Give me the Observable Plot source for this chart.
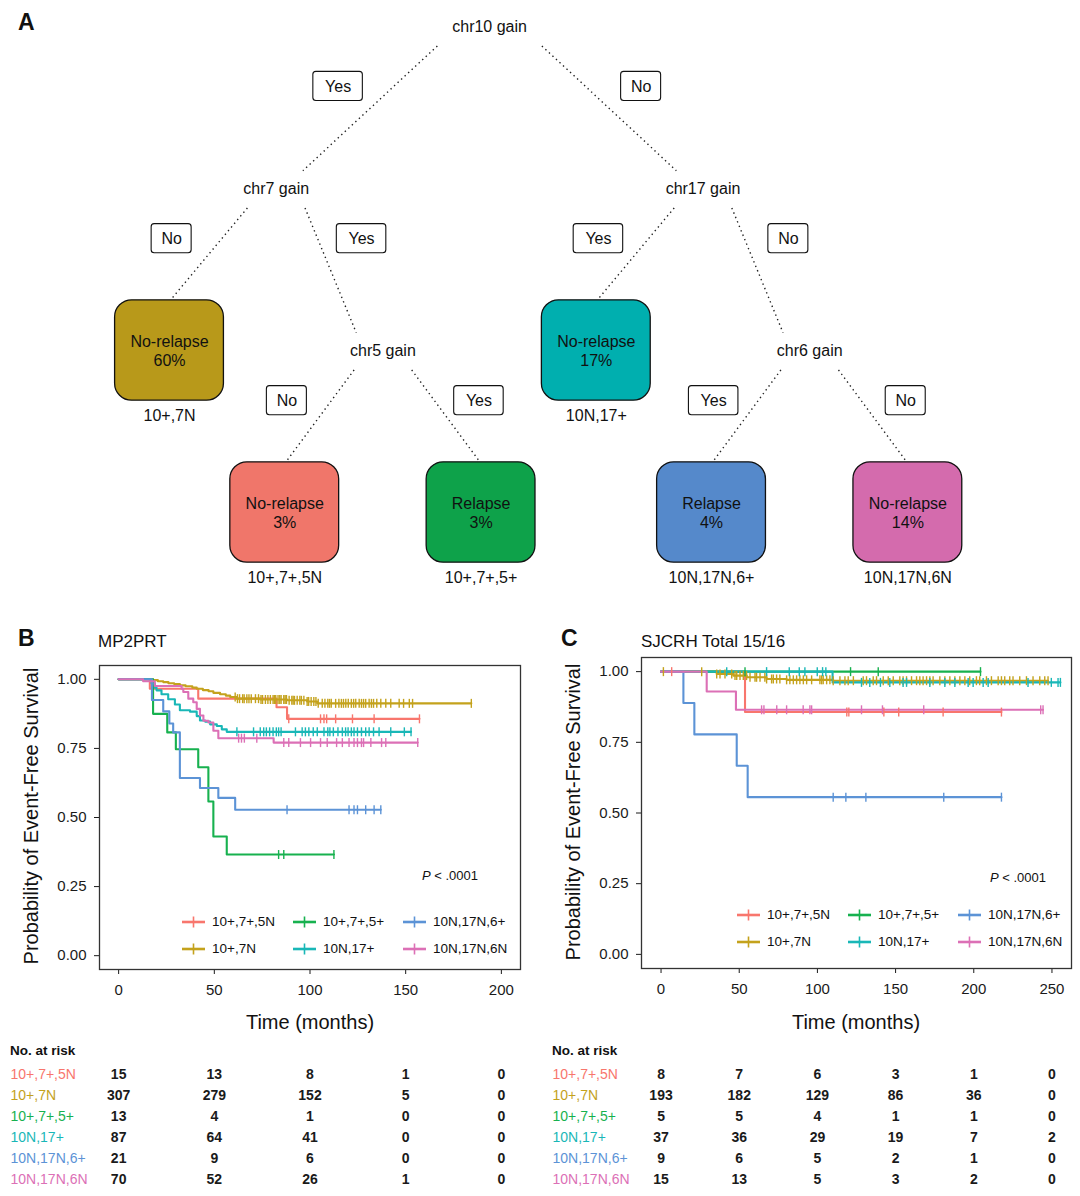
<!DOCTYPE html>
<html>
<head>
<meta charset="utf-8">
<script src="https://cdn.jsdelivr.net/npm/d3@7"></script>
<script src="https://cdn.jsdelivr.net/npm/@observablehq/plot@0.6"></script>
<style>
  html, body { margin: 0; padding: 0; background: #fff; }
  #page { position: relative; width: 1080px; height: 1196px; overflow: hidden; background: #fff;
          font-family: "Liberation Sans", Arial, Helvetica, sans-serif; color: #111; }
  .abs { position: absolute; line-height: 1; white-space: nowrap; }
  .mid { transform: translate(0, -50%); }
  .ctr { transform: translate(-50%, -50%); }
  .rot { transform: translate(-50%, -50%) rotate(-90deg); }
  .panel { font-weight: bold; font-size: 23px; }
  .ptitle { font-size: 17px; }
  .axt { font-size: 20px; }
  .axx { font-size: 20px; }
  .pval { font-size: 13px; }
  .risk { font-size: 13.5px; font-weight: bold; }
  .leg { position: absolute; display: grid; grid-auto-flow: column; grid-template-rows: 27px 27px; font-size: 13.5px; }
  .leg .it { display: flex; align-items: center; gap: 7px; }
  svg { display: block; }
</style>
</head>
<body>
<div id="page"></div>
<script>
// ---------------- DATA ----------------
const groups = ["10+,7+,5N", "10+,7N", "10+,7+,5+", "10N,17+", "10N,17N,6+", "10N,17N,6N"];
const kmColors = ["#F8766D", "#C4A21C", "#17B14F", "#19B7B7", "#5C93D6", "#DC70B6"];
const treeColors = ["#F0766A", "#B8991A", "#0EA24A", "#00AFAF", "#5589CB", "#D46BAD"];

// Decision tree (structure only)
const treeNodes = [
  {id: "chr10", parent: null, answer: null, side: 0, label: "chr10 gain"},
  {id: "chr7", parent: "chr10", answer: "Yes", side: -1, label: "chr7 gain"},
  {id: "chr17", parent: "chr10", answer: "No", side: 1, label: "chr17 gain"},
  {id: "10+,7N", parent: "chr7", answer: "No", side: -1, outcome: "No-relapse", pct: "60%"},
  {id: "chr5", parent: "chr7", answer: "Yes", side: 1, label: "chr5 gain"},
  {id: "10N,17+", parent: "chr17", answer: "Yes", side: -1, outcome: "No-relapse", pct: "17%"},
  {id: "chr6", parent: "chr17", answer: "No", side: 1, label: "chr6 gain"},
  {id: "10+,7+,5N", parent: "chr5", answer: "No", side: -1, outcome: "No-relapse", pct: "3%"},
  {id: "10+,7+,5+", parent: "chr5", answer: "Yes", side: 1, outcome: "Relapse", pct: "3%"},
  {id: "10N,17N,6+", parent: "chr6", answer: "Yes", side: -1, outcome: "Relapse", pct: "4%"},
  {id: "10N,17N,6N", parent: "chr6", answer: "No", side: 1, outcome: "No-relapse", pct: "14%"}
];

// Panel B: MP2PRT (time in months, survival) step points and censor times
const B_5N_steps = [[0,1],[16.3,0.966],[41.6,0.93],[82.5,0.899],[88,0.857]];
const B_5N_cens = [88.9,105.5,107.3,108.7,113.4,122.2,133.5,157.2];
const B_7N_steps = [[0,1],[18,0.997],[20.5,0.993],[23.3,0.99],[26,0.986],[29,0.983],[32,0.978],[35,0.975],[38.5,0.97],[40.8,0.966],[44,0.961],[47,0.957],[49.5,0.951],[53,0.946],[56,0.941],[58.3,0.936],[61.8,0.93],[74,0.927],[88,0.924],[98.5,0.92],[103.8,0.913]];
const B_7N_cens = [60.9,62.1,63.2,64.8,65.6,67.0,68.1,69.3,71.5,73.1,74.4,75.2,76.7,78.0,79.3,80.7,81.4,82.1,83.3,84.2,84.9,86.3,87.0,87.7,89.1,90.5,91.2,91.9,93.3,94.7,95.5,96.8,98.5,99.3,100.6,102.0,103.1,104.3,106.4,107.8,109.3,110.2,111.1,113.4,115.1,116.4,117.5,118.7,120.0,121.6,122.8,123.9,125.7,126.9,128.0,129.1,130.9,132.1,133.2,134.9,137.0,139.6,142.2,146.6,148.9,151.9,153.6,184.3];
const B_5p_steps = [[0,1],[18,0.875],[25.4,0.808],[29.9,0.747],[41.6,0.682],[46.9,0.558],[49.5,0.431],[56.5,0.366]];
const B_5p_cens = [83.6,86.3,112.5];
const B_17p_steps = [[0,1],[17.2,0.985],[18.9,0.97],[19.8,0.96],[22.4,0.946],[25.9,0.928],[29.4,0.909],[32,0.888],[37.3,0.883],[40.8,0.867],[42.5,0.851],[45.2,0.847],[47.8,0.837],[51.3,0.831],[53.9,0.819],[56.5,0.81]];
const B_17p_cens = [61.8,70.5,74.0,75.8,77.2,78.9,80.7,82.4,83.6,84.9,92.4,95.9,97.6,99.4,101.7,103.8,107.3,109.3,110.4,112.2,114.6,116.9,118.6,119.9,121.6,123.0,124.8,126.9,129.1,130.9,133.2,136.1,142.2,149.3,152.8];
const B_6p_steps = [[0,1],[17.4,0.925],[23.3,0.884],[26.5,0.84],[28.5,0.808],[32,0.643],[42.5,0.607],[52.1,0.571],[60.9,0.528]];
const B_6p_cens = [88,120.4,123,124.8,129.1,133.5,137];
const B_6N_steps = [[0,1],[12.8,0.993],[18.9,0.976],[32.9,0.966],[33.8,0.954],[36.4,0.93],[39,0.917],[40.8,0.893],[42.5,0.869],[44.3,0.85],[46.9,0.844],[49.5,0.814],[52.1,0.787],[81,0.771]];
const B_6N_cens = [62.7,64.2,65.7,72.2,86.3,88.9,95.0,100.3,105.5,109.0,113.9,116.9,120.4,123.0,124.8,126.9,128.0,131.8,137.4,139.6,156.3];

// Panel C: SJCRH Total 15/16
const C_5N_steps = [[0,1],[53.7,0.857]];
const C_5N_cens = [6.8,118.8,120.1,142.5,152,180.4,217.7];
const C_7N_steps = [[0,1],[35.6,0.992],[46.2,0.986],[54.8,0.98],[67.5,0.974],[80.3,0.971],[110.1,0.968]];
const C_7N_cens = [1.5,26.0,35.6,37.7,40.9,45.2,47.3,48.4,50.5,52.6,54.7,56.9,60.1,61.1,63.3,66.4,67.5,70.7,71.8,73.9,76.0,80.3,82.4,84.6,86.7,88.8,91.0,93.1,96.3,101.6,102.7,103.7,105.9,108.0,110.1,114.4,117.6,119.7,123.0,129.3,131.4,135.7,137.8,142.1,145.3,148.5,152.7,154.8,157.0,160.2,163.4,165.5,167.6,169.8,171.9,174.0,178.3,181.5,184.7,187.9,191.1,194.3,197.4,201.7,203.8,208.1,211.3,215.6,217.7,219.8,223.0,225.1,229.4,233.7,237.9,242.2,245.4,247.5];
const C_5p_steps = [[0,1]];
const C_5p_cens = [53.7,121.2,138.9,204.3];
const C_17p_steps = [[0,1],[109.7,0.962]];
const C_17p_cens = [42,67.5,82,88.4,92,99.9,103.3,105.4,128.2,133.5,140.3,146.3,154.8,157,171.9,181.5,187.9,196.4,199.6,206,209.2,234.7,249.6,253.9,255.4];
const C_6p_steps = [[0,1],[14.3,0.889],[21.3,0.778],[48.4,0.667],[55.4,0.556]];
const C_6p_cens = [110.1,118.2,131,180.8,217.7];
const C_6N_steps = [[0,1],[29.2,0.93],[47.9,0.865]];
const C_6N_cens = [64.3,65.8,74,80.3,90.9,95.2,96.3,128.2,141.6,168,242.8,244.3];

// Axis ticks / risk table time points
const ticksB = [0, 50, 100, 150, 200];
const ticksC = [0, 50, 100, 150, 200, 250];
const survTicks = [0, 0.25, 0.5, 0.75, 1];

// Number at risk (rows in group order)
const riskB = [[15,13,8,1,0],[307,279,152,5,0],[13,4,1,0,0],[87,64,41,0,0],[21,9,6,0,0],[70,52,26,1,0]];
const riskC = [[8,7,6,3,1,0],[193,182,129,86,36,0],[5,5,4,1,1,0],[37,36,29,19,7,2],[9,6,5,2,1,0],[15,13,5,3,2,0]];

// ---------------- HELPERS ----------------
const page = document.getElementById("page");
const FONT = '"Liberation Sans", Arial, Helvetica, sans-serif';

function place(node, left, top) {
  node.style.position = "absolute";
  node.style.left = left + "px";
  node.style.top = top + "px";
  page.appendChild(node);
}
function addText(html, cls, left, top) {
  const d = document.createElement("div");
  d.className = "abs " + cls;
  d.innerHTML = html;
  d.style.left = left + "px";
  d.style.top = top + "px";
  page.appendChild(d);
}

function survAt(steps, t) {
  let s = 1;
  for (const [tt, ss] of steps) if (tt <= t) s = ss;
  return s;
}
function kmData(stepsList, censList) {
  const lines = [], cens = [];
  groups.forEach((g, i) => {
    const st = stepsList[i], ce = censList[i];
    const last = st[st.length - 1];
    const end = Math.max(last[0], ...ce);
    st.forEach(([t, s]) => lines.push({g, t, s}));
    lines.push({g, t: end, s: last[1]});
    ce.forEach(t => cens.push({g, t, s: survAt(st, t)}));
  });
  return {lines, cens};
}
const censorTick = {draw(ctx) { ctx.moveTo(0, -4.5); ctx.lineTo(0, 4.5); }};

function kmPlot(stepsList, censList, ticks, m) {
  const {lines, cens} = kmData(stepsList, censList);
  const span = ticks[ticks.length - 1] - ticks[0];
  return Plot.plot({
    width: 540, height: 400,
    marginLeft: m.left, marginRight: m.right, marginTop: m.top, marginBottom: m.bottom,
    x: {domain: [ticks[0] - 0.05 * span, ticks[ticks.length - 1] + 0.05 * span]},
    y: {domain: [-0.05, 1.05]},
    color: {domain: groups, range: kmColors},
    style: {fontFamily: FONT, color: "#1a1a1a", background: "transparent", overflow: "visible"},
    marks: [
      Plot.axisX({ticks, tickSize: 5, tickPadding: 10, label: null, fontSize: 15}),
      Plot.axisY({ticks: survTicks, tickFormat: d3.format(".2f"), tickSize: 5, tickPadding: 8, label: null, fontSize: 15}),
      Plot.line(lines, {x: "t", y: "s", z: "g", stroke: "g", curve: "step-after", strokeWidth: 2.1}),
      Plot.dot(cens, {x: "t", y: "s", stroke: "g", fill: "none", symbol: censorTick, strokeWidth: 1.4}),
      Plot.frame({stroke: "#333", strokeWidth: 1.3})
    ]
  });
}

function riskPlot(times, counts, m) {
  const rows = [];
  groups.forEach((g, i) => times.forEach((t, j) => rows.push({g, t, n: counts[i][j]})));
  const span = times[times.length - 1] - times[0];
  return Plot.plot({
    width: 540, height: 156,
    marginLeft: m.left, marginRight: m.right, marginTop: 0, marginBottom: 0,
    x: {domain: [times[0] - 0.05 * span, times[times.length - 1] + 0.05 * span], axis: null},
    y: {type: "point", domain: groups, range: [33, 140], padding: 0, axis: null},
    color: {domain: groups, range: kmColors},
    style: {fontFamily: FONT, color: "#111", background: "transparent", overflow: "visible"},
    marks: [
      Plot.text(rows, {x: "t", y: "g", text: "n", fontSize: 14, fontWeight: "bold", fill: "#1a1a1a"}),
      Plot.text(groups, {y: d => d, text: d => d, fill: d => d, frameAnchor: "left", dx: -89, textAnchor: "start", fontSize: 14})
    ]
  });
}

function legend(left, top) {
  const d = document.createElement("div");
  d.className = "leg";
  d.style.gridTemplateColumns = "111px 110px auto";
  groups.forEach((g, i) => {
    const c = kmColors[i];
    const it = document.createElement("div");
    it.className = "it";
    it.innerHTML = `<svg width="23" height="12"><line x1="0" x2="23" y1="6" y2="6" stroke="${c}" stroke-width="2.6"/><line x1="11.5" x2="11.5" y1="0.5" y2="11.5" stroke="${c}" stroke-width="1.6"/></svg><span>${g}</span>`;
    d.appendChild(it);
  });
  place(d, left, top);
}

// ---------------- PANEL A: TREE ----------------
const spread = [0, 2, 1, 0.92];
const byId = new Map();
const tnodes = treeNodes.map(n => {
  const p = n.parent ? byId.get(n.parent) : null;
  const depth = p ? p.depth + 1 : 0;
  const slot = p ? p.slot + n.side * spread[depth] : 3;
  const o = {...n, depth, slot, leaf: !!n.outcome};
  byId.set(n.id, o);
  return o;
});
const leaves = tnodes.filter(d => d.leaf);
const splits = tnodes.filter(d => !d.leaf);
const edges = tnodes.filter(d => d.parent).map(c => {
  const p = byId.get(c.parent), s = c.side, root = p.depth === 0;
  return {
    answer: c.answer,
    x1: p.slot + s * (root ? 0.49 : 0.27), y1: p.depth + 0.12,
    x2: c.slot - s * (c.leaf ? 0.02 : 0.25), y2: c.leaf ? c.depth - 0.32 : c.depth - 0.11,
    lx: c.slot - s * (root ? 0.58 : c.leaf ? 0.02 : 0.2),
    ly: p.depth + (root ? 0.37 : 0.31),
    hw: (c.answer.length * 9.5 + 21) / 2 / 106.7
  };
});

const tree = Plot.plot({
  width: 1080, height: 600, margin: 0,
  x: {domain: [-1.584, 8.538], range: [0, 1080], axis: null},
  y: {domain: [-0.1605, 3.5432], range: [0, 600], axis: null},
  style: {fontFamily: FONT, color: "#111", background: "transparent", overflow: "visible"},
  marks: [
    Plot.link(edges, {x1: "x1", y1: "y1", x2: "x2", y2: "y2", stroke: "#222", strokeWidth: 1.4, strokeDasharray: "1.4,3.4"}),
    Plot.rect(edges, {x1: d => d.lx - d.hw, x2: d => d.lx + d.hw, y1: d => d.ly - 0.09, y2: d => d.ly + 0.09, fill: "#fff", stroke: "#111", strokeWidth: 1.1, rx: 3}),
    Plot.text(edges, {x: "lx", y: "ly", text: "answer", fontSize: 16}),
    Plot.rect(leaves, {x1: d => d.slot - 0.51, x2: d => d.slot + 0.51, y1: d => d.depth - 0.31, y2: d => d.depth + 0.31,
      fill: d => treeColors[groups.indexOf(d.id)], stroke: "#111", strokeWidth: 1.3, rx: 17}),
    Plot.text(leaves, {x: "slot", y: "depth", text: d => d.outcome + "\n" + d.pct, fontSize: 16, lineHeight: 1.2, fill: "#111"}),
    Plot.text(leaves, {x: "slot", y: d => d.depth + 0.31, dy: 15, text: "id", fontSize: 16}),
    Plot.text(splits, {x: "slot", y: "depth", text: "label", fontSize: 16})
  ]
});
place(tree, 0, 0);
addText("A", "panel mid", 18, 22);

// ---------------- PANEL B ----------------
const kmB = kmPlot([B_5N_steps, B_7N_steps, B_5p_steps, B_17p_steps, B_6p_steps, B_6N_steps],
                   [B_5N_cens, B_7N_cens, B_5p_cens, B_17p_cens, B_6p_cens, B_6N_cens],
                   ticksB, {left: 99, right: 20, top: 25, bottom: 71});
place(kmB, 0, 640);
addText("B", "panel mid", 18, 638);
addText("MP2PRT", "ptitle mid", 98, 641);
addText("Probability of Event-Free Survival", "axt rot", 31, 816);
addText("Time (months)", "axx ctr", 310, 1022);
addText("<i>P</i> &lt; .0001", "pval mid", 422, 875);
legend(182, 908);
const rB = riskPlot(ticksB, riskB, {left: 99, right: 20});
place(rB, 0, 1040);
addText("No. at risk", "risk mid", 10, 1051);

// ---------------- PANEL C ----------------
const kmC = kmPlot([C_5N_steps, C_7N_steps, C_5p_steps, C_17p_steps, C_6p_steps, C_6N_steps],
                   [C_5N_cens, C_7N_cens, C_5p_cens, C_17p_cens, C_6p_cens, C_6N_cens],
                   ticksC, {left: 101, right: 9, top: 17, bottom: 72});
place(kmC, 540, 640);
addText("C", "panel mid", 561, 638);
addText("SJCRH Total 15/16", "ptitle mid", 641, 641);
addText("Probability of Event-Free Survival", "axt rot", 573, 812);
addText("Time (months)", "axx ctr", 856, 1022);
addText("<i>P</i> &lt; .0001", "pval mid", 990, 877);
legend(737, 901);
const rC = riskPlot(ticksC, riskC, {left: 101, right: 9});
place(rC, 540, 1040);
addText("No. at risk", "risk mid", 552, 1051);
</script>
</body>
</html>
